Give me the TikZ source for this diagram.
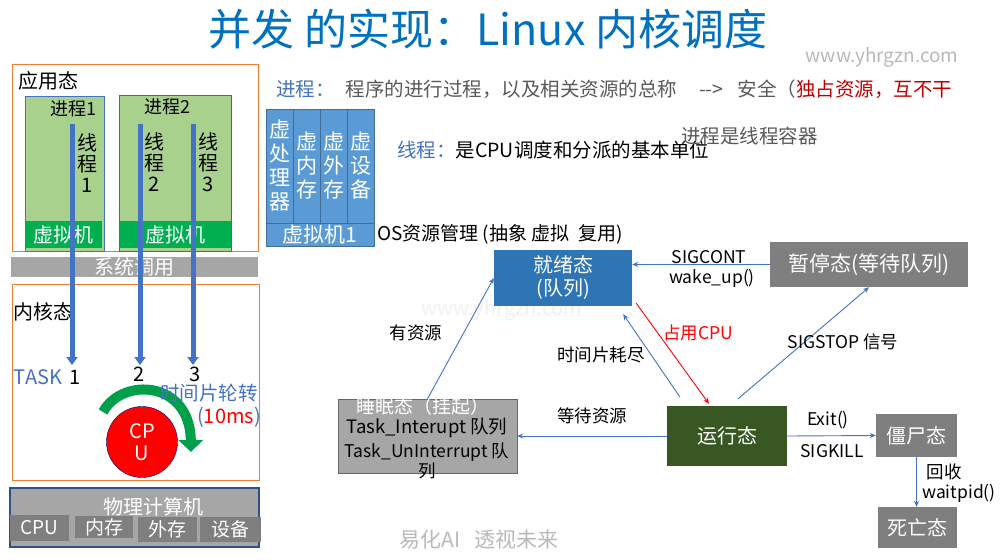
\documentclass[tikz,border=0pt]{standalone}
\usepackage{fontspec}
\setmainfont{Noto Sans CJK SC}
\usetikzlibrary{positioning,arrows.meta}

\definecolor{titleblue}{HTML}{0070C0}
\definecolor{lineblue}{HTML}{4472C4}
\definecolor{orangeline}{HTML}{ED7D31}
\definecolor{procgreen}{HTML}{A9D18E}
\definecolor{vmgreen}{HTML}{00B050}
\definecolor{midgray}{HTML}{A6A6A6}
\definecolor{darkgray}{HTML}{7F7F7F}
\definecolor{readyblue}{HTML}{2E75B6}
\definecolor{rungreen}{HTML}{385723}
\definecolor{vmblue}{HTML}{5B9BD5}
\definecolor{textgray}{HTML}{595959}
\definecolor{darkred}{HTML}{C00000}
\definecolor{arcgreen}{HTML}{00A04A}

\tikzset{
  lbl/.style={inner sep=0pt, font=\fontsize{17.5}{20}\selectfont},
  body/.style={inner sep=0pt, anchor=west, font=\fontsize{19.5}{22}\selectfont},
  big/.style={inner sep=0pt, font=\fontsize{20}{22}\selectfont},
  state/.style={inner sep=0pt, text=white, align=center, font=\fontsize{20}{23}\selectfont},
  hwbox/.style={fill=darkgray, inner sep=0pt, text=white, font=\fontsize{19}{20}\selectfont},
  vcol/.style={fill=vmblue, draw=vmblue!70!black, inner sep=0pt, text=white, align=center,
    minimum width=27pt, minimum height=114pt, font=\fontsize{21}{24}\selectfont},
  thread/.style={draw=lineblue, line width=5pt, -{Triangle[width=11pt,length=8pt]}},
  arr/.style={draw=lineblue, line width=0.9pt, -{Stealth[length=6pt,width=5pt]}},
}

\begin{document}
\begin{tikzpicture}[x=1pt,y=-1pt]
\useasboundingbox (0,0) rectangle (1005,560);
\fill[white] (0,0) rectangle (1005,560);

% title and watermarks
\node[inner sep=0pt, text=titleblue, font=\fontsize{43}{45}\selectfont] (title) at (488,29) {并发 的实现：Linux 内核调度};
\node[inner sep=0pt, text=gray!55, font=\fontsize{19}{20}\selectfont] (wmtop) at (882,57) {www.yhrgzn.com};
\node[inner sep=0pt, text=gray!12, font=\fontsize{20}{22}\selectfont] (wmmid) at (502,310) {www.yhrgzn.com};
\node[inner sep=0pt, text=gray!55, font=\fontsize{21}{22}\selectfont] (wmbot) at (479,540) {易化AI\hspace{14pt}透视未来};

% user mode
\draw[orangeline, line width=1pt] (12,64) rectangle (258,251);
\node[big, anchor=west] (usermode) at (18,81) {应用态};
\filldraw[fill=procgreen, draw=lineblue] (25,96) rectangle (104,251);
\filldraw[fill=procgreen, draw=gray!70!blue] (119,95) rectangle (231,251);
\node[big, font=\fontsize{18}{20}\selectfont] (proc1) at (73,109) {进程1};
\node[big, font=\fontsize{18}{20}\selectfont] (proc2) at (167,107) {进程2};
\node[big, fill=vmgreen, text=white, minimum width=76pt, minimum height=27pt] (vm1) at (64,234.5) {虚拟机};
\node[big, fill=vmgreen, text=white, minimum width=111pt, minimum height=27pt] (vm2) at (175.5,234.5) {虚拟机};

% system call
\node[big, fill=midgray, text=white, minimum width=247pt, minimum height=20pt] (syscall) at (134.5,267) {系统调用};

% kernel mode
\draw[orangeline, line width=1pt] (12,284) rectangle (259,480);
\node[big, anchor=west] (kernelmode) at (13,312) {内核态};

% threads
\coordinate (th1top) at (72,124);
\coordinate (th2top) at (140,124);
\coordinate (th3top) at (193,124);
\coordinate (th1tip) at (72,365);
\coordinate (th2tip) at (140,365);
\coordinate (th3tip) at (193,365);
\draw[thread] (th1top) -- (th1tip);
\draw[thread] (th2top) -- (th2tip);
\draw[thread] (th3top) -- (th3tip);
\node[big, align=center, font=\fontsize{20}{21}\selectfont] (thname1) at (87,163) {线\\程\\1};
\node[big, align=center, font=\fontsize{20}{21}\selectfont] (thname2) at (154,162) {线\\程\\2};
\node[big, align=center, font=\fontsize{20}{21}\selectfont] (thname3) at (208,162) {线\\程\\3};

\node[big, text=lineblue] (task) at (38,377) {TASK};
\node[big] (task1) at (75,377) {1};
\node[big] (task2) at (139,374) {2};
\node[big] (task3) at (195,374) {3};

% cpu
\node[circle, fill=red, draw=blue!50!black, minimum size=71pt, inner sep=0pt, text=white,
  align=center, font=\fontsize{20}{22}\selectfont] (cpu) at (142,442) {CP\\U};
\draw[draw=arcgreen, line width=10pt, -{Triangle[width=24pt,length=12pt]}]
  (103,412) .. controls (122,377) and (190,380) .. (191,452);
\node[big, text=lineblue, font=\fontsize{19.5}{22}\selectfont] (slice) at (209,393) {时间片轮转};
\node[big] (slicems) at (229,417) {\textcolor{lineblue}{(}\textcolor{red}{10ms}\textcolor{lineblue}{)}};

% physical machine
\filldraw[fill=midgray, draw=lineblue!70!black, line width=1.2pt] (10,488) rectangle (259,547);
\node[big, text=white] (machine) at (153,507) {物理计算机};
\node[hwbox, minimum width=59pt, minimum height=26pt] (hwcpu) at (39.5,528) {CPU};
\node[hwbox, minimum width=58pt, minimum height=22pt] (hwmem) at (104,527) {内存};
\node[hwbox, minimum width=59pt, minimum height=25pt] (hwdisk) at (167.5,529.5) {外存};
\node[hwbox, minimum width=61pt, minimum height=25pt] (hwdev) at (230.5,529.5) {设备};

% definitions
\node[body] (procdef) at (276,89) {\textcolor{lineblue}{进程：}\hspace{11pt}\textcolor{textgray}{程序的进行过程，以及相关资源的总称\hspace{22pt}-{}->\hspace{14pt}安全（}\textcolor{darkred}{独占资源，互不干}};
\node[body] (thrdef) at (397,150) {\textcolor{lineblue}{线程：}是CPU调度和分派的基本单位};
\node[body, text=textgray] (container) at (681,136) {进程是线程容器};

% virtual machine 1
\node[vcol] (vcpu) at (279.5,166) {虚\\处\\理\\器};
\node[vcol] (vmem) at (306.5,166) {虚\\内\\存};
\node[vcol] (vdisk) at (333.5,166) {虚\\外\\存};
\node[vcol] (vdev) at (360.5,166) {虚\\设\\备};
\node[vcol, minimum width=108pt, minimum height=23pt] (vmone) at (320,234.5) {虚拟机1};
\node[body, font=\fontsize{19}{22}\selectfont] (osmgmt) at (377,234) {OS资源管理 (抽象 虚拟\ \ 复用)};

% states
\node[state, fill=readyblue, minimum width=138pt, minimum height=56pt] (ready) at (563,278) {就绪态\\(队列)};
\node[state, fill=darkgray, minimum width=198pt, minimum height=45pt, font=\fontsize{21}{23}\selectfont] (paused) at (869,264.5) {暂停态(等待队列)};
\node[state, fill=rungreen, minimum width=120pt, minimum height=60pt] (running) at (727,436) {运行态};
\node[state, fill=midgray, draw=gray!80!black, minimum width=179pt, minimum height=74pt] (sleeping) at (427.5,436) {};
\node[state, fill=darkgray, minimum width=81pt, minimum height=43pt] (zombie) at (916.5,435.5) {僵尸态};
\node[state, fill=darkgray, minimum width=79pt, minimum height=41pt] (dead) at (917.5,527.5) {死亡态};

\node[lbl, text=white, font=\fontsize{19}{20}\selectfont] (sleeptitle) at (423,406) {睡眠态（挂起）};
\node[lbl, font=\fontsize{18.5}{20}\selectfont] (sleepq1) at (427,428) {Task\_Interupt 队列};
\node[lbl, align=center, font=\fontsize{17.5}{18}\selectfont] (sleepq2) at (427,461) {Task\_UnInterrupt 队\\列};

% transitions
\draw[arr] (paused.west) -- (paused.west -| ready.east);
\draw[arr] (sleeping.north) -- (ready.west);
\draw[arr] ([xshift=13pt,yshift=9pt]running.north west) -- ([xshift=-9pt,yshift=-8pt]ready.south east);
\draw[arr, draw=red] ([xshift=4pt,yshift=3pt]ready.south east) -- ([xshift=-18pt,yshift=2pt]running.north);
\draw[arr] ([xshift=11pt,yshift=7pt]running.north) -- (paused.south);
\draw[arr] (running.west) -- (sleeping.east);
\draw[arr] (running.east) -- (zombie.west);
\draw[arr] (zombie.south) -- (zombie.south |- dead.north);

\node[lbl] (sigcont) at (709,257) {SIGCONT};
\node[lbl] (wakeup) at (712,278) {wake\_up()};
\node[lbl] (hasres) at (416,333) {有资源};
\node[lbl] (sliceout) at (601,355) {时间片耗尽};
\node[lbl, text=red] (usecpu) at (698,333) {占用CPU};
\node[lbl] (sigstop) at (843,342) {SIGSTOP 信号};
\node[lbl] (waitres) at (592,416) {等待资源};
\node[lbl] (exitcall) at (828,420) {Exit()};
\node[lbl] (sigkill) at (832,451) {SIGKILL};
\node[lbl] (reclaim) at (944,472) {回收};
\node[lbl] (waitpid) at (959,493) {waitpid()};
\end{tikzpicture}
\end{document}
